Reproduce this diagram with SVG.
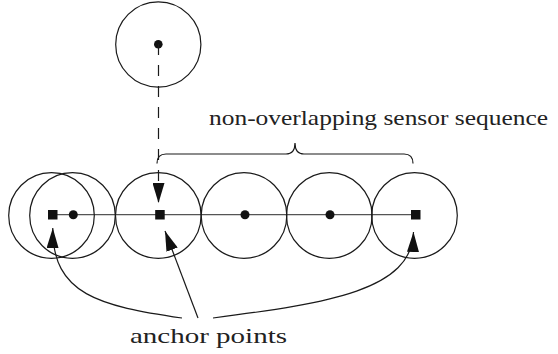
<svg xmlns="http://www.w3.org/2000/svg" width="558" height="354" viewBox="0 0 558 354">
<style>
.c{fill:none;stroke:#1a1a1a;stroke-width:1.2}
.d{fill:#111}
.l{fill:none;stroke:#1a1a1a;stroke-width:1.2}
.t{font-size:21px;fill:#222}
</style>
<defs>
<marker id="ah" viewBox="0 0 20 12" refX="20" refY="6" markerWidth="20" markerHeight="12" markerUnits="userSpaceOnUse" orient="auto">
<path d="M0,0 L20,6 L0,12 z" fill="#111"/>
</marker>
</defs>
<g id="baseline"><line x1="52.5" y1="214.7" x2="415.5" y2="214.7" stroke="#555" stroke-width="1.3"/></g>
<g id="s0"><circle class="c" cx="158.3" cy="44.5" r="42.6"/><circle class="d" cx="158.3" cy="44.3" r="4.3"/></g>
<g id="s1"><circle class="c" cx="51.5" cy="215.5" r="42.8"/><rect class="d" x="48" y="210" width="9.5" height="9.5"/></g>
<g id="s2"><circle class="c" cx="72.5" cy="215.5" r="42.8"/><circle class="d" cx="73.3" cy="214.7" r="4.5"/></g>
<g id="s3"><circle class="c" cx="158.3" cy="215.5" r="42.8"/><rect class="d" x="155.2" y="210" width="9.5" height="9.5"/></g>
<g id="s4"><circle class="c" cx="244" cy="215.5" r="42.8"/><circle class="d" cx="245" cy="214.7" r="4.5"/></g>
<g id="s5"><circle class="c" cx="329.3" cy="215.5" r="42.8"/><circle class="d" cx="330" cy="214.7" r="4.5"/></g>
<g id="s6"><circle class="c" cx="414.5" cy="215.5" r="42.8"/><rect class="d" x="411" y="210" width="9.5" height="9.5"/></g>
<g id="connectors">
<line class="l" x1="158.5" y1="44" x2="158.5" y2="203" stroke-dasharray="11 10" marker-end="url(#ah)"/>
<path class="l" d="M157,163.5 Q157,154 166,154 L286,154 Q295,154 295,143 Q295,154 304,154 L404,154 Q413,154 413,163.5"/>
<path class="l" d="M182,318 C100,306 52,295 52.8,228" marker-end="url(#ah)"/>
<path class="l" d="M198,318 L165,231" marker-end="url(#ah)"/>
<path class="l" d="M213,318 C330,303 412,290 413.5,232" marker-end="url(#ah)"/>
</g>
<text class="t" font-family="Liberation Serif, DejaVu Serif, serif" x="209" y="125" textLength="339" lengthAdjust="spacingAndGlyphs">non-overlapping sensor sequence</text>
<text class="t" font-family="Liberation Serif, DejaVu Serif, serif" x="130" y="343" textLength="157" lengthAdjust="spacingAndGlyphs">anchor points</text>
</svg>
